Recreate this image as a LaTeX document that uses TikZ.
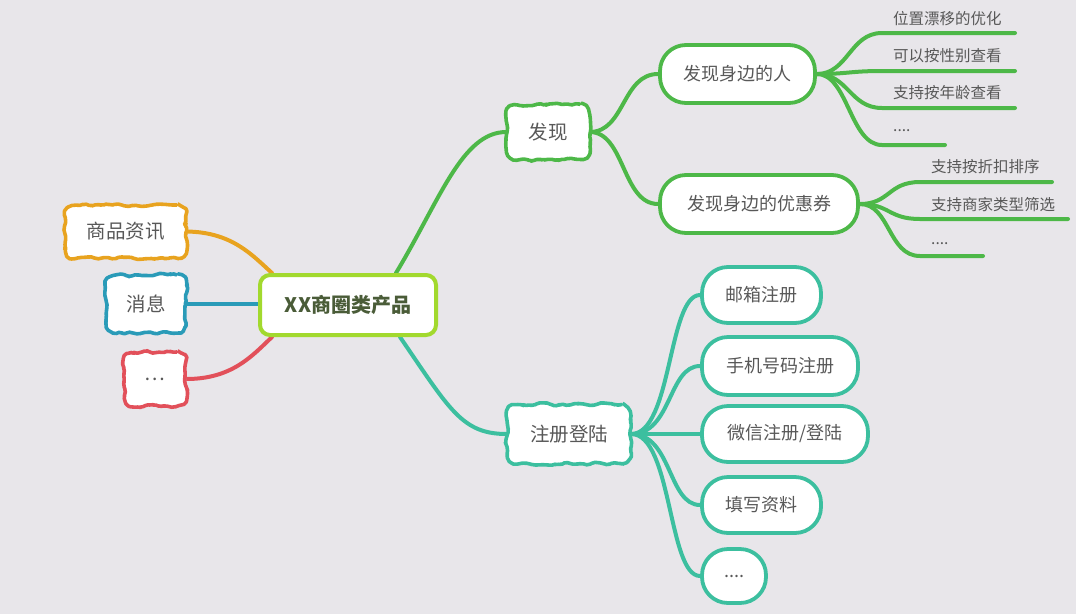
\documentclass[tikz,border=0pt]{standalone}
\usepackage{fontspec}
\newfontfamily\cjk{Noto Sans CJK SC}
\usetikzlibrary{decorations.pathmorphing}

\definecolor{bgc}{HTML}{E8E6EA}
\definecolor{lime}{HTML}{A2D92E}
\definecolor{grn}{HTML}{4DB848}
\definecolor{tealc}{HTML}{3CBF9F}
\definecolor{orng}{HTML}{E8A31F}
\definecolor{blu}{HTML}{2A9BB8}
\definecolor{rd}{HTML}{E2505A}
\definecolor{txt}{HTML}{585858}
\definecolor{ctr}{HTML}{4A5C38}

\pgfdeclarelayer{bg}
\pgfdeclarelayer{edges}
\pgfsetlayers{bg,edges,main}

\tikzset{
  every node/.style={font=\cjk, text=txt},
  cloudbox/.style={fill=white, rounded corners=9pt, inner sep=0pt,
    font=\cjk\fontsize{19.5}{22}\selectfont,
    postaction={draw=#1, line width=3.6pt, line join=round, rounded corners=2pt,
      decorate, decoration={random steps, segment length=4.6pt, amplitude=1.8pt}}},
  pill/.style={draw=#1, fill=white, line width=3.8pt, rounded corners=26pt,
    inner sep=0pt, font=\cjk\fontsize{18}{20}\selectfont},
  leaf/.style={anchor=west, inner sep=0pt, font=\cjk\fontsize{15.5}{18}\selectfont},
  link/.style={draw=#1, line width=4pt, line cap=round},
}

\begin{document}
\begin{tikzpicture}[x=1pt,y=-1pt]
\pgfmathsetseed{11}
\begin{pgfonlayer}{bg}
  \fill[bgc] (0,0) rectangle (1076,614);
\end{pgfonlayer}
\useasboundingbox (0,0) rectangle (1076,614);

% central topic
\node[draw=lime, fill=white, line width=4pt, rounded corners=10pt,
      minimum width=176pt, minimum height=60pt, text=ctr,
      font=\cjk\bfseries\fontsize{20}{22}\selectfont] (main) at (348,305) {XX商圈类产品};

% left branches
\node[cloudbox=orng, minimum width=121pt, minimum height=53pt] (news) at (125.5,231.5) {商品资讯};
\node[cloudbox=blu,  minimum width=80pt,  minimum height=58pt] (msg)  at (146,304) {消息};
\node[cloudbox=rd,   minimum width=62pt,  minimum height=54pt] (more) at (155,379) {…};

% right branches
\node[cloudbox=grn,   minimum width=83pt,  minimum height=55pt] (find) at (548,132) {发现};
\node[cloudbox=tealc, minimum width=124pt, minimum height=59pt] (reg)  at (569,434) {注册登陆};

% discovery subtopics
\node[pill=grn, minimum width=155pt, minimum height=58pt] (people) at (737.5,74) {发现身边的人};
\node[pill=grn, minimum width=198pt, minimum height=58pt] (coupon) at (759,204) {发现身边的优惠券};

% registration subtopics
\node[pill=tealc, minimum width=119pt, minimum height=56pt] (mail)   at (761.5,295) {邮箱注册};
\node[pill=tealc, minimum width=156pt, minimum height=58pt] (phone)  at (780,366) {手机号码注册};
\node[pill=tealc, minimum width=166pt, minimum height=56pt] (wechat) at (785,434) {微信注册/登陆};
\node[pill=tealc, minimum width=119pt, minimum height=56pt] (info)   at (761.5,505) {填写资料};
\node[pill=tealc, minimum width=64pt,  minimum height=54pt] (etc)    at (734,576) {....};

% leaf labels
\node[leaf] (pa) at (893,19)  {位置漂移的优化};
\node[leaf] (pb) at (893,56)  {可以按性别查看};
\node[leaf] (pc) at (893,93)  {支持按年龄查看};
\node[leaf] (pd) at (893,131) {....};
\node[leaf] (ca) at (931,167) {支持按折扣排序};
\node[leaf] (cb) at (931,205) {支持商家类型筛选};
\node[leaf] (cc) at (931,244) {....};

% leaf underlines
\coordinate (pas) at (882,33);  \coordinate (pae) at (1015,33);
\coordinate (pbs) at (882,71);  \coordinate (pbe) at (1015,71);
\coordinate (pcs) at (882,108); \coordinate (pce) at (1015,108);
\coordinate (pds) at (882,145); \coordinate (pde) at (945,145);
\coordinate (cas) at (920,182); \coordinate (cae) at (1052,182);
\coordinate (cbs) at (920,219); \coordinate (cbe) at (1068,219);
\coordinate (ccs) at (920,256); \coordinate (cce) at (983,256);

\begin{pgfonlayer}{edges}
  % central to left branches
  \draw[link=orng] (news.east) .. controls (232,232) and (252,255) .. ([xshift=14pt]main.north west);
  \draw[link=blu]  (msg.east) -- (main.west |- msg.east);
  \draw[link=rd]   (more.east) .. controls (232,379) and (252,356) .. ([xshift=14pt]main.south west);
  % central to right branches
  \draw[link=grn]   ([xshift=-42pt]main.north east) .. controls (440,200) and (462,132) .. (find.west);
  \draw[link=tealc] ([xshift=-38pt]main.south east) .. controls (450,410) and (462,434) .. (reg.west);
  % discovery
  \draw[link=grn] (find.east) .. controls (625,132) and (622,74) .. (people.west);
  \draw[link=grn] (find.east) .. controls (625,132) and (622,204) .. (coupon.west);
  \draw[link=grn] (people.east) .. controls (848,74) and (850,33) .. (pas) -- (pae);
  \draw[link=grn] (people.east) .. controls (848,74) and (850,71) .. (pbs) -- (pbe);
  \draw[link=grn] (people.east) .. controls (848,74) and (850,108) .. (pcs) -- (pce);
  \draw[link=grn] (people.east) .. controls (848,74) and (850,145) .. (pds) -- (pde);
  \draw[link=grn] (coupon.east) .. controls (890,204) and (888,182) .. (cas) -- (cae);
  \draw[link=grn] (coupon.east) .. controls (890,204) and (888,219) .. (cbs) -- (cbe);
  \draw[link=grn] (coupon.east) .. controls (890,204) and (888,256) .. (ccs) -- (cce);
  % registration
  \draw[link=tealc] (reg.east) .. controls (672,434) and (668,295) .. (mail.west);
  \draw[link=tealc] (reg.east) .. controls (672,434) and (668,366) .. (phone.west);
  \draw[link=tealc] (reg.east) -- (wechat.west);
  \draw[link=tealc] (reg.east) .. controls (672,434) and (668,505) .. (info.west);
  \draw[link=tealc] (reg.east) .. controls (672,434) and (668,576) .. (etc.west);
\end{pgfonlayer}
\end{tikzpicture}
\end{document}
